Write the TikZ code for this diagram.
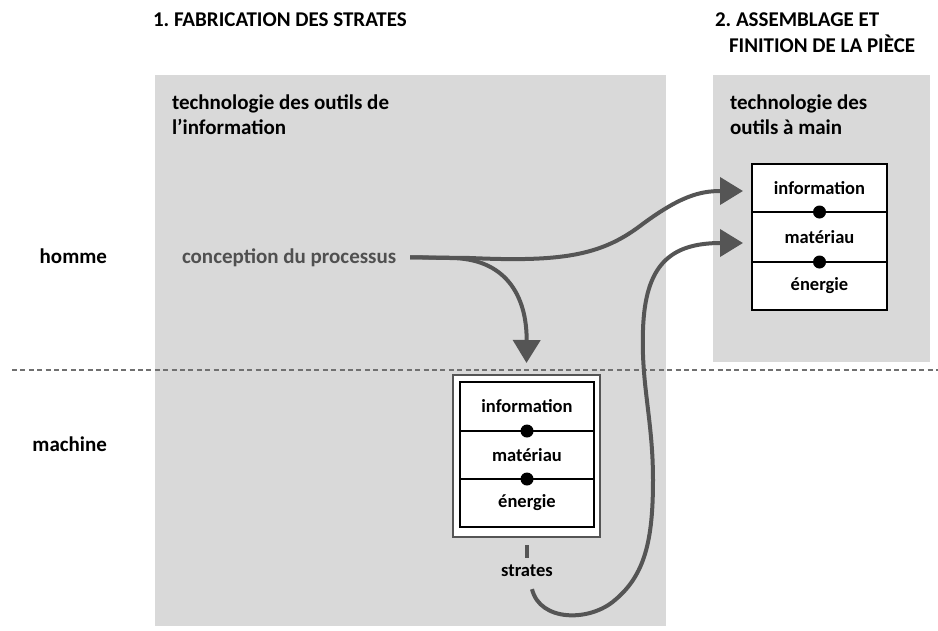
\documentclass[tikz,border=0pt]{standalone}
\usepackage{fontspec}
\setmainfont{Carlito}
\usetikzlibrary{arrows.meta}
\definecolor{boxgray}{HTML}{D9D9D9}
\definecolor{arrowgray}{HTML}{555555}
\definecolor{textgray}{HTML}{505050}
\definecolor{dashgray}{HTML}{707070}
\begin{document}
\begin{tikzpicture}[x=1pt,y=-1pt,
  every node/.style={inner sep=0pt, outer sep=0pt},
  big/.style={font=\fontsize{21}{24.5}\selectfont\bfseries},
  small/.style={font=\fontsize{18.5}{22}\selectfont\bfseries},
  region/.style={fill=boxgray, draw=none, anchor=north west},
  cell/.style={draw=black, line width=1.5pt, fill=white, small, anchor=north},
  frame/.style={draw=arrowgray, line width=2pt, fill=white, anchor=north},
  flow/.style={draw=arrowgray, line width=4pt, -{Triangle[length=23pt,width=27pt]}},
  link/.style={circle, fill=black, minimum size=13pt},
  sep/.style={draw=dashgray, line width=1.6pt, dash pattern=on 5pt off 3.4pt},
]
\useasboundingbox (0,0) rectangle (938,630);

% regions
\node[region, minimum width=511pt, minimum height=551pt] (zone1) at (155,75) {};
\node[region, minimum width=217pt, minimum height=287pt] (zone2) at (713,75) {};

% separator
\coordinate (sepL) at (12,370);
\coordinate (sepR) at (938,370);
\draw[sep] (sepL) -- (sepR);

% titles
\node[big, anchor=base west] (t1) at (153,26) {1.\ FABRICATION DES STRATES};
\node[big, anchor=base west] (t2a) at (715,26) {2.\ ASSEMBLAGE ET};
\node[big, anchor=base west] (t2b) at (729,52) {FINITION DE LA PIÈCE};

% region labels
\node[big, anchor=north west, align=left] (z1lab) at (172,95) {technologie des outils de\\l’information};
\node[big, anchor=north west, align=left] (z2lab) at (730,95) {technologie des\\outils à main};

% row labels
\node[big, anchor=base east] (homme) at (107,263) {homme};
\node[big, anchor=base east] (machine) at (107,451) {machine};

% right stack
\node[cell, minimum width=135pt, minimum height=48pt] (rinfo) at (819.5,164) {information};
\node[cell, minimum width=135pt, minimum height=50pt] (rmat) at (819.5,212) {matériau};
\node[cell, minimum width=135pt, minimum height=48pt] (reng) at (819.5,262) {énergie};
\node[link] (rdot1) at (rinfo.south) {};
\node[link] (rdot2) at (rmat.south) {};

% lower stack
\node[frame, minimum width=147pt, minimum height=162pt] (lframe) at (526.5,375) {};
\node[cell, minimum width=134pt, minimum height=49pt] (linfo) at (527,382) {information};
\node[cell, minimum width=134pt, minimum height=48pt] (lmat) at (527,431) {matériau};
\node[cell, minimum width=134pt, minimum height=48pt] (leng) at (527,479) {énergie};
\node[link] (ldot1) at (linfo.south) {};
\node[link] (ldot2) at (lmat.south) {};

% process
\node[big, text=textgray, anchor=base west] (conc) at (182,263) {conception du processus};
\node[small, anchor=base] (strates) at (527,576) {strates};

% connectors
\coordinate (split) at (470,258);
\draw[flow] ([xshift=14pt]conc.east) -- (split)
  .. controls (560,262) and (600,256) .. (640,226)
  .. controls (680,196) and (700,191) .. ([xshift=-9pt,yshift=-3pt]rinfo.west);
\draw[flow] ([xshift=14pt]conc.east) -- (450,258)
  .. controls (505,258) and (527,295) .. ([yshift=12pt]lframe.north);
\draw[draw=arrowgray, line width=4pt] ([yshift=-8pt]lframe.south) -- ([yshift=-21pt]lframe.south);
\coordinate (sfoot) at ([xshift=5pt,yshift=-13pt]strates.south);
\draw[flow] (sfoot)
  .. controls (540,622) and (590,622) .. (615,600)
  .. controls (645,575) and (653,540) .. (653,480)
  .. controls (653,420) and (641,385) .. (643,330)
  .. controls (645,265) and (670,243) .. ([xshift=-9pt,yshift=-6pt]rmat.west);
\end{tikzpicture}
\end{document}
